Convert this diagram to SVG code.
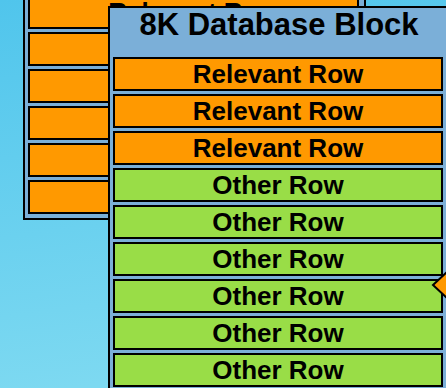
<svg xmlns="http://www.w3.org/2000/svg" width="446" height="388" viewBox="0 0 446 388">
<defs>
<linearGradient id="bg" x1="0" y1="0" x2="0.15" y2="1">
<stop offset="0" stop-color="#50C5EC"/>
<stop offset="1" stop-color="#7DD9F1"/>
</linearGradient>
</defs>
<style>
.blk{fill:#7BAFD8;stroke:#000;stroke-width:2}
.rel{fill:#FF9900;stroke:#000;stroke-width:2}
.oth{fill:#99DD47;stroke:#000;stroke-width:2}
.t{font-family:"Liberation Sans",Arial,sans-serif;font-weight:bold;font-size:26px;text-anchor:middle;fill:#000}
.title{font-family:"Liberation Sans",Arial,sans-serif;font-weight:bold;font-size:31px;text-anchor:middle;fill:#000}
</style>
<rect x="0" y="0" width="446" height="388" fill="url(#bg)"/>
<g id="back-block">
<rect class="blk" x="24" y="-10" width="341" height="229"/>
<rect class="rel" x="29" y="-4" width="329" height="32"/>
<text class="t" x="193.5" y="21">Relevant Row</text>
<rect class="rel" x="29" y="33" width="329" height="32"/>
<rect class="rel" x="29" y="70" width="329" height="32"/>
<rect class="rel" x="29" y="107" width="329" height="32"/>
<rect class="rel" x="29" y="144" width="329" height="32"/>
<rect class="rel" x="29" y="181" width="329" height="32"/>
</g>
<g id="front-block">
<rect class="blk" x="109" y="7" width="345" height="390"/>
<text class="title" x="279" y="35">8K Database Block</text>
<g id="row1"><rect class="rel" x="114" y="58" width="328" height="32"/><text class="t" x="278" y="83">Relevant Row</text></g>
<g id="row2"><rect class="rel" x="114" y="95" width="328" height="32"/><text class="t" x="278" y="120">Relevant Row</text></g>
<g id="row3"><rect class="rel" x="114" y="132" width="328" height="32"/><text class="t" x="278" y="157">Relevant Row</text></g>
<g id="row4"><rect class="oth" x="114" y="169" width="328" height="32"/><text class="t" x="278" y="194">Other Row</text></g>
<g id="row5"><rect class="oth" x="114" y="206" width="328" height="32"/><text class="t" x="278" y="231">Other Row</text></g>
<g id="row6"><rect class="oth" x="114" y="243" width="328" height="32"/><text class="t" x="278" y="268">Other Row</text></g>
<g id="row7"><rect class="oth" x="114" y="280" width="328" height="32"/><text class="t" x="278" y="305">Other Row</text></g>
<g id="row8"><rect class="oth" x="114" y="317" width="328" height="32"/><text class="t" x="278" y="342">Other Row</text></g>
<g id="row9"><rect class="oth" x="114" y="354" width="328" height="32"/><text class="t" x="278" y="379">Other Row</text></g>
</g>
<g id="connectors">
<polygon points="433,285 447,272 461,285 447,298" fill="#FF9900" stroke="#000" stroke-width="2"/>
</g>
</svg>
